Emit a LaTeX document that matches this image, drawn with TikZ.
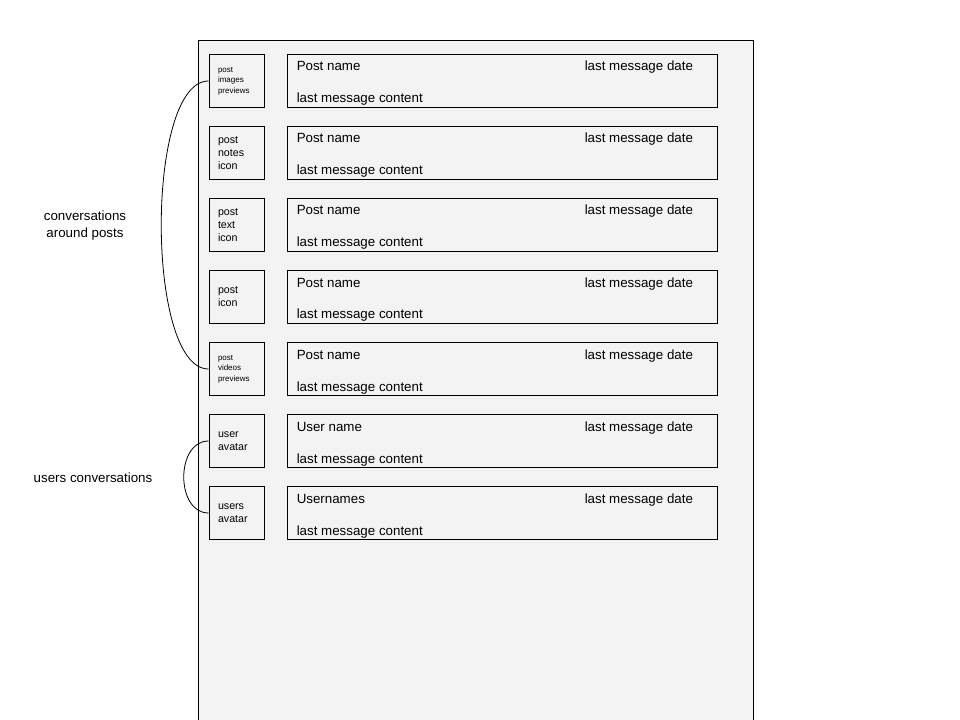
\documentclass[tikz,border=0pt]{standalone}
\usepackage{fontspec}
\setmainfont{Liberation Sans}
\usepackage{tikz}

\definecolor{panel}{HTML}{F3F3F3}

\tikzset{
  iconbox/.style={draw, fill=panel, line width=0.75pt, minimum width=41.25pt, minimum height=39.75pt,
    text width=27.75pt, inner xsep=6.75pt, align=left, font=\fontsize{8}{9.75}\selectfont},
  iconsmall/.style={iconbox, font=\fontsize{6}{7.7}\selectfont},
  rowbox/.style={draw, fill=panel, line width=0.75pt, minimum width=322.5pt, minimum height=39.75pt},
  rowtext/.style={anchor=base west, inner sep=0pt, font=\fontsize{10}{12}\selectfont},
}

\begin{document}
\begin{tikzpicture}[x=0.75pt, y=-0.75pt]
            \useasboundingbox (0,0) rectangle (960,720);

            % Screen
            \fill[panel] (198,40.5) rectangle (753,720);
            \draw[line width=0.75pt] (198,720) -- (198,40.5) -- (753,40.5) -- (753,720);

            % Conversation rows
            \foreach \i/\look/\icon/\title in {
              1/iconsmall/{post\\images\\previews}/Post name,
              2/iconbox/{post\\notes\\icon}/Post name,
              3/iconbox/{post\\text\\icon}/Post name,
              4/iconbox/{post\\icon}/Post name,
              5/iconsmall/{post\\videos\\previews}/Post name,
              6/iconbox/{user\\avatar}/User name,
              7/iconbox/{users\\avatar}/Usernames}{
            \node[\look] (icon\i) at (236.5, 9+72*\i) {\icon};
            \node[rowbox] (row\i) at (502, 9+72*\i) {};
            \node[rowtext] (title\i) at ([shift={(10,17)}]row\i.north west) {\title};
            \node[rowtext] (date\i) at ([shift={(298,17)}]row\i.north west) {last message date};
            \node[rowtext] (msg\i) at ([shift={(10,49)}]row\i.north west) {last message content};
            }

            % Groups
            \draw[line width=0.6pt] (icon1.west) .. controls +(-63,0) and +(-63,0) .. (icon5.west);
            \draw[line width=0.6pt] (icon6.west) .. controls +(-33,0) and +(-33,0) .. (icon7.west);

            \node[font=\fontsize{10}{12.75}\selectfont, align=center] (postsgroup) at (85,226) {conversations\\around posts};
            \node[font=\fontsize{10}{12}\selectfont] (usersgroup) at (93,478) {users conversations};
        \end{tikzpicture}
\end{document}
